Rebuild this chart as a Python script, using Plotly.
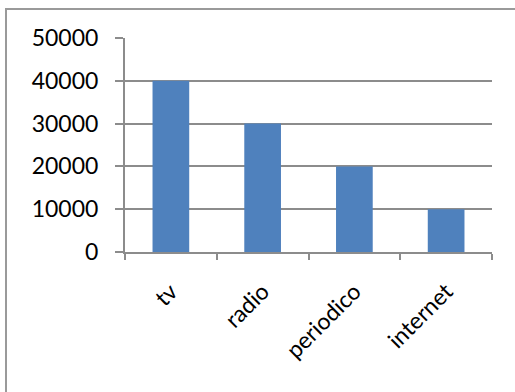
"""Bar chart: media audience by channel."""
import plotly.graph_objects as go

categories = ["tv", "radio", "periodico", "internet"]
values = [40000, 30000, 20000, 10000]
y_ticks = [0, 10000, 20000, 30000, 40000, 50000]

W, H = 515, 392
L, R, T, B = 125, 23, 38, 140
GRID = "#8c8c8c"
FONT = dict(family="Lato, Open Sans, sans-serif", size=23, color="#000000")
XFONT = dict(family="Lato, Open Sans, sans-serif", size=23, color="#000000")

fig = go.Figure(
    go.Bar(x=categories, y=values, marker=dict(color="#4f81bd", line=dict(width=0)))
)

# outer chart frame (in pixels, converted to paper coords)
pw, ph = W - L - R, H - T - B


def px_x(x):
    return (x - L) / pw


def px_y(y):
    return (H - B - y) / ph


fig.add_shape(
    type="rect", xref="paper", yref="paper",
    x0=px_x(6), x1=px_x(W + 20), y0=px_y(H + 20), y1=px_y(9),
    line=dict(color="#9a9a9a", width=2), layer="below",
)

fig.update_layout(
    width=W, height=H,
    margin=dict(l=L, r=R, t=T, b=B, autoexpand=False),
    paper_bgcolor="white", plot_bgcolor="white",
    bargap=0.6, showlegend=False, font=FONT,
)
fig.update_xaxes(
    automargin=False,
    tickangle=-45, ticks="outside", ticklen=6, tickcolor=GRID, tickwidth=2,
    tickson="boundaries", showline=True, linecolor=GRID, linewidth=2,
    showgrid=False, tickfont=XFONT, ticklabelstandoff=15,
)
fig.update_yaxes(
    automargin=False,
    range=[0, 50000], tickvals=y_ticks, ticktext=[str(v) for v in y_ticks],
    ticks="outside", ticklen=8, tickcolor=GRID, tickwidth=2,
    showline=True, linecolor=GRID, linewidth=2,
    showgrid=True, gridcolor=GRID, gridwidth=2, zeroline=False,
    tickfont=FONT, ticklabelstandoff=12,
)

# page without the default body margin, so the chart fills the window
fig.write_html(
    "out.html",
    config={"displayModeBar": False},
    post_script="document.body.style.margin='0';",
)
